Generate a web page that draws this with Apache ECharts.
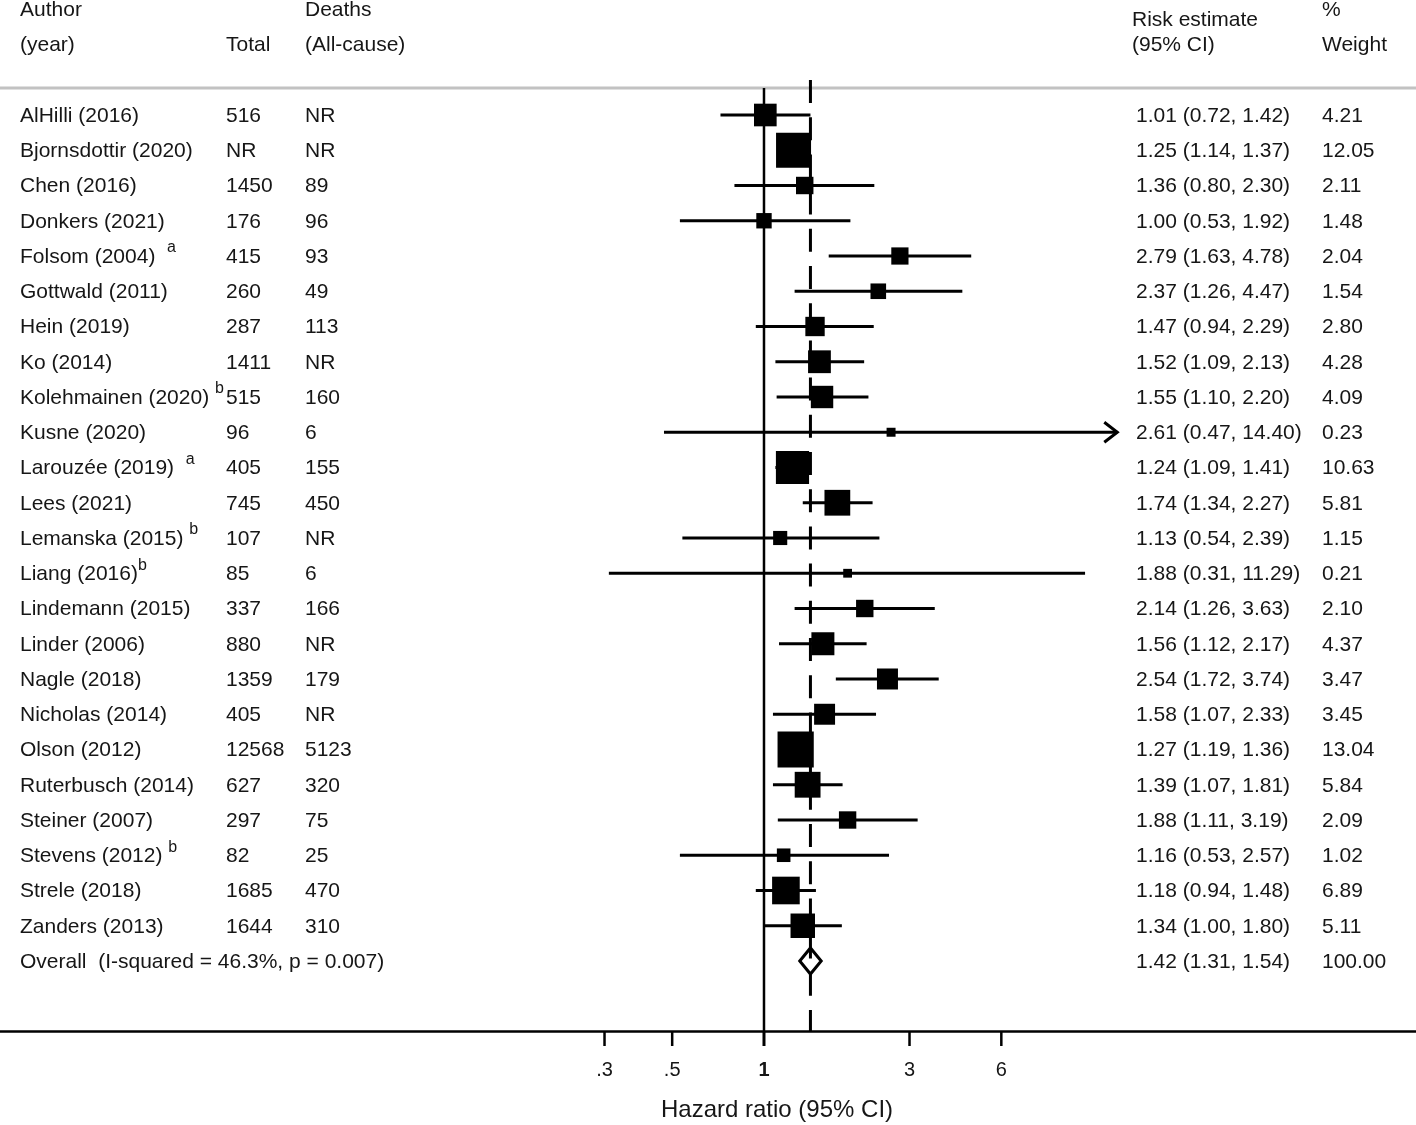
<!DOCTYPE html>
<html>
<head>
<meta charset="utf-8">
<script src="https://cdn.jsdelivr.net/npm/echarts@6/dist/echarts.min.js"></script>
<style>
html,body{margin:0;padding:0;background:#ffffff;}
#chart{width:1416px;height:1125px;}
</style>
</head>
<body>
<div id="chart"></div>
<script>
// ---------------- DATA ----------------
const studies = ['AlHilli (2016)','Bjornsdottir (2020)','Chen (2016)','Donkers (2021)','Folsom (2004)','Gottwald (2011)','Hein (2019)','Ko (2014)','Kolehmainen (2020)','Kusne (2020)','Larouzée (2019)','Lees (2021)','Lemanska (2015)','Liang (2016)','Lindemann (2015)','Linder (2006)','Nagle (2018)','Nicholas (2014)','Olson (2012)','Ruterbusch (2014)','Steiner (2007)','Stevens (2012)','Strele (2018)','Zanders (2013)'];
const notes = ['','','','','  a','','','',' b','','  a','',' b','b','','','','','','','',' b','',''];
const totals = ['516','NR','1450','176','415','260','287','1411','515','96','405','745','107','85','337','880','1359','405','12568','627','297','82','1685','1644'];
const deaths = ['NR','NR','89','96','93','49','113','NR','160','6','155','450','NR','6','166','NR','179','NR','5123','320','75','25','470','310'];
const hr     = [1.01,1.25,1.36,1.00,2.79,2.37,1.47,1.52,1.55,2.61,1.24,1.74,1.13,1.88,2.14,1.56,2.54,1.58,1.27,1.39,1.88,1.16,1.18,1.34];
const ciLow  = [0.72,1.14,0.80,0.53,1.63,1.26,0.94,1.09,1.10,0.47,1.09,1.34,0.54,0.31,1.26,1.12,1.72,1.07,1.19,1.07,1.11,0.53,0.94,1.00];
const ciHigh = [1.42,1.37,2.30,1.92,4.78,4.47,2.29,2.13,2.20,14.40,1.41,2.27,2.39,11.29,3.63,2.17,3.74,2.33,1.36,1.81,3.19,2.57,1.48,1.80];
const weights = [4.21,12.05,2.11,1.48,2.04,1.54,2.80,4.28,4.09,0.23,10.63,5.81,1.15,0.21,2.10,4.37,3.47,3.45,13.04,5.84,2.09,1.02,6.89,5.11];
const overallLabel = 'Overall  (I-squared = 46.3%, p = 0.007)';
const overallHR = 1.42;
const overallLow = 1.31;
const overallHigh = 1.54;
const overallWeight = 100.00;
const tickValues = [0.3, 0.5, 1, 3, 6];
const axisTitle = 'Hazard ratio (95% CI)';
const headerTop = ['Author', 'Deaths', 'Risk estimate', '%'];
const headerBottom = ['(year)', 'Total', '(All-cause)', '(95% CI)', 'Weight'];

// ---------------- STYLE / LAYOUT ----------------
const INK = '#000000';
const TXT = '#161616';
const FAMILY = '"Liberation Sans", Arial, Helvetica, sans-serif';
const FS = 21;
const FONT = FS + 'px ' + FAMILY;
const COL = {name: 20, total: 226, deaths: 305, est: 1136, weight: 1322};
const TEXT_DY = 1;
const ARROW_ABOVE = 12;

const nRows = studies.length + 1;
const chart = echarts.init(document.getElementById('chart'), null, {renderer: 'canvas'});

function textEl(x, y, text, align) {
  return {
    type: 'text', x: x, y: y,
    style: {
      text: text, fill: TXT, font: FONT,
      align: align || 'left', verticalAlign: 'middle',
      textAlign: align || 'left', textVerticalAlign: 'middle'
    }
  };
}

function nameEl(x, y, name, note) {
  if (!note) return textEl(x, y, name);
  const m = note.match(/^(\s*)(.*)$/);
  const txt = '{n|' + name + m[1] + '}{s|' + m[2] + '}';
  return {
    type: 'text', x: x, y: y,
    style: {
      text: txt, fill: TXT, font: FONT,
      align: 'left', verticalAlign: 'middle',
      textAlign: 'left', textVerticalAlign: 'middle',
      rich: {
        n: {fontSize: FS, fontFamily: FAMILY, fill: TXT, lineHeight: 24, verticalAlign: 'middle', textVerticalAlign: 'middle'},
        s: {fontSize: 16, fontFamily: FAMILY, fill: TXT, lineHeight: 16, padding: [0, 0, 18, 0], verticalAlign: 'middle', textVerticalAlign: 'middle'}
      }
    }
  };
}

const fmt2 = v => v.toFixed(2);
const tickFmt = v => (v < 1 ? String(v).replace(/^0/, '') : String(v));

const option = {
  animation: false,
  backgroundColor: '#ffffff',
  grid: {left: 0, right: 0, top: 88, bottom: 94, containLabel: false},
  xAxis: {
    type: 'log', logBase: 10, min: 0.0031265, max: 137.33,
    axisLine: {show: true, onZero: false, lineStyle: {color: INK, width: 2.5}},
    axisTick: {show: false}, axisLabel: {show: false}, splitLine: {show: false}
  },
  yAxis: {
    type: 'value', inverse: true, min: -0.766, max: 25.986, show: false,
    splitLine: {show: false}
  },
  graphic: [
    {type: 'line', shape: {x1: 0, y1: 88, x2: 1416, y2: 88}, style: {stroke: '#c2c2c2', lineWidth: 3}, z: 1},
    textEl(COL.name, 10, headerTop[0]),
    textEl(COL.deaths, 10, headerTop[1]),
    textEl(1132, 20, headerTop[2]),
    textEl(COL.weight, 10, headerTop[3]),
    textEl(COL.name, 45, headerBottom[0]),
    textEl(COL.total, 45, headerBottom[1]),
    textEl(COL.deaths, 45, headerBottom[2]),
    textEl(1132, 45, headerBottom[3]),
    textEl(COL.weight, 45, headerBottom[4]),
    {type: 'text', x: 777, y: 1110, style: {text: axisTitle, fill: TXT, font: '24px ' + FAMILY, align: 'center', verticalAlign: 'middle', textAlign: 'center', textVerticalAlign: 'middle'}}
  ],
  series: [
    { // confidence intervals
      type: 'custom', z: 2, silent: true,
      data: hr.map((v, i) => [v, i]),
      encode: {x: 0, y: 1},
      renderItem: function (params, api) {
        const i = params.dataIndex;
        const p1 = api.coord([ciLow[i], i]);
        const p2 = api.coord([ciHigh[i], i]);
        const ch = [{type: 'line', shape: {x1: p1[0], y1: p1[1], x2: p2[0], y2: p2[1]}, style: {stroke: INK, lineWidth: 3}}];
        if (ciHigh[i] > ARROW_ABOVE) {
          ch.push({type: 'polyline', shape: {points: [[p2[0] - 13, p2[1] - 10], [p2[0], p2[1]], [p2[0] - 13, p2[1] + 10]]}, style: {stroke: INK, lineWidth: 3, fill: null}});
        }
        return {type: 'group', children: ch};
      }
    },
    { // weighted squares
      type: 'scatter', z: 3, silent: true,
      symbol: 'rect',
      symbolSize: function (val, p) { return 4.8 + 8.7 * Math.sqrt(weights[p.dataIndex]); },
      itemStyle: {color: INK, opacity: 1},
      data: hr.map((v, i) => [v, i])
    },
    { // overall diamond
      type: 'custom', z: 4, silent: true,
      data: [[overallHR, studies.length]],
      encode: {x: 0, y: 1},
      renderItem: function (params, api) {
        const r = studies.length;
        const c = api.coord([overallHR, r]);
        const l = api.coord([overallLow, r]);
        const h = api.coord([overallHigh, r]);
        const t = api.coord([overallHR, r - 0.37]);
        const b = api.coord([overallHR, r + 0.37]);
        return {type: 'polygon', shape: {points: [[l[0], c[1]], [t[0], t[1]], [h[0], c[1]], [b[0], b[1]]]}, style: {fill: '#ffffff', stroke: INK, lineWidth: 3}};
      }
    },
    { // reference lines (null and overall)
      type: 'custom', z: 5, silent: true,
      data: [[1, 0]],
      encode: {x: 0, y: 1},
      renderItem: function (params, api) {
        const cs = params.coordSys;
        const x1 = api.coord([1, 0])[0];
        const xo = api.coord([overallHR, 0])[0];
        return {type: 'group', children: [
          {type: 'line', shape: {x1: x1, y1: cs.y, x2: x1, y2: cs.y + cs.height}, style: {stroke: INK, lineWidth: 2.5}},
          {type: 'line', shape: {x1: xo, y1: cs.y - 8, x2: xo, y2: cs.y + cs.height}, style: {stroke: INK, lineWidth: 3, lineDash: [23, 14.2], lineDashOffset: 0}}
        ]};
      }
    },
    { // axis ticks and labels
      type: 'custom', z: 6, silent: true,
      data: tickValues.map(v => [v, 0]),
      encode: {x: 0, y: 1},
      renderItem: function (params, api) {
        const cs = params.coordSys;
        const v = tickValues[params.dataIndex];
        const x = api.coord([v, 0])[0];
        const yb = cs.y + cs.height;
        return {type: 'group', children: [
          {type: 'line', shape: {x1: x, y1: yb, x2: x, y2: yb + 15}, style: {stroke: INK, lineWidth: v === 1 ? 3 : 2.5}},
          {type: 'text', x: x, y: yb + 39, style: {text: tickFmt(v), fill: TXT, font: (v === 1 ? 'bold ' : '') + '20px ' + FAMILY, align: 'center', verticalAlign: 'middle', textAlign: 'center', textVerticalAlign: 'middle'}}
        ]};
      }
    },
    { // table text
      type: 'custom', z: 7, silent: true,
      data: Array.from({length: nRows}, (_, i) => [1, i]),
      encode: {x: 0, y: 1},
      renderItem: function (params, api) {
        const i = params.dataIndex;
        const y = api.coord([1, i])[1] + TEXT_DY;
        const ch = [];
        if (i < studies.length) {
          ch.push(nameEl(COL.name, y, studies[i], notes[i]));
          ch.push(textEl(COL.total, y, totals[i]));
          ch.push(textEl(COL.deaths, y, deaths[i]));
          ch.push(textEl(COL.est, y, fmt2(hr[i]) + ' (' + fmt2(ciLow[i]) + ', ' + fmt2(ciHigh[i]) + ')'));
          ch.push(textEl(COL.weight, y, fmt2(weights[i])));
        } else {
          ch.push(textEl(COL.name, y, overallLabel));
          ch.push(textEl(COL.est, y, fmt2(overallHR) + ' (' + fmt2(overallLow) + ', ' + fmt2(overallHigh) + ')'));
          ch.push(textEl(COL.weight, y, fmt2(overallWeight)));
        }
        return {type: 'group', children: ch};
      }
    }
  ]
};
chart.setOption(option);
</script>
</body>
</html>
